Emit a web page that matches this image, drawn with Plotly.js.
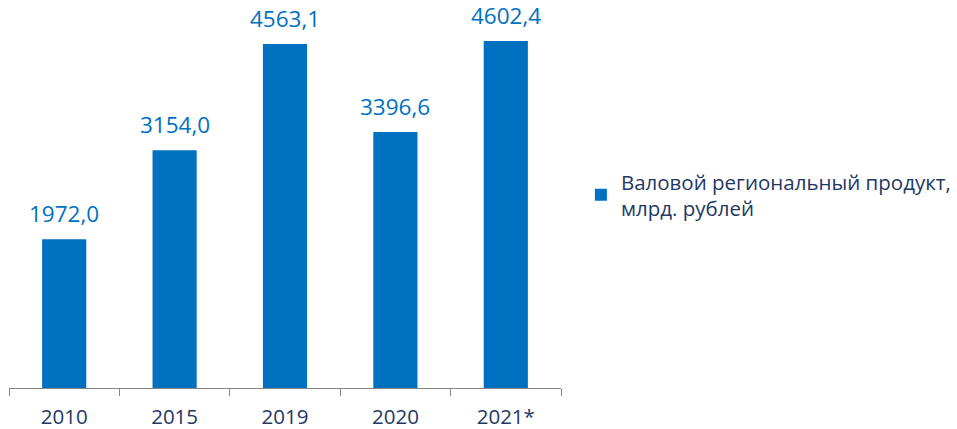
<!DOCTYPE html>
<html>
<head>
<meta charset="utf-8">
<script src="https://cdn.plot.ly/plotly-3.0.1.min.js"></script>
<style>html,body{margin:0;padding:0;background:#fff}#chart{width:957px;height:429px}</style>
</head>
<body>
<div id="chart"></div>
<script>
const categories = ["2010", "2015", "2019", "2020", "2021*"];
const values = [1972.0, 3154.0, 4563.1, 3396.6, 4602.4];
const valueLabels = ["1972,0", "3154,0", "4563,1", "3396,6", "4602,4"];
const seriesName = "Валовой региональный продукт,<br>млрд. рублей";

const FONT = "Open Sans, sans-serif";
const BLUE = "#0070C0";
const NAVY = "#1F3864";

const trace = {
  type: "bar",
  x: categories,
  y: values,
  name: seriesName,
  marker: {color: BLUE},
  width: 0.4,
  showlegend: true,
  hoverinfo: "none"
};

// category axes take annotation x as the category's serial index
const annotations = categories.map((c, i) => ({
  x: i, y: values[i], xref: "x", yref: "y",
  text: valueLabels[i], showarrow: false,
  yanchor: "bottom", yshift: 9, borderpad: 0,
  font: {family: FONT, size: 22.5, color: BLUE}
}));

const layout = {
  width: 957, height: 429,
  margin: {l: 9, r: 396, t: 11, b: 41},
  paper_bgcolor: "#fff", plot_bgcolor: "#fff",
  font: {family: FONT, color: NAVY},
  bargap: 0.6,
  xaxis: {
    type: "category",
    range: [-0.5, 4.5],
    showline: true, linecolor: "#868686", linewidth: 1,
    ticks: "outside", tickson: "boundaries", ticklen: 7, tickcolor: "#868686",
    ticklabelstandoff: 10,
    tickfont: {family: FONT, size: 20.5, color: NAVY},
    showgrid: false, zeroline: false, fixedrange: true
  },
  yaxis: {
    range: [0, 5000], visible: false, showgrid: false, zeroline: false, fixedrange: true
  },
  showlegend: true,
  legend: {
    xref: "container", yref: "container",
    x: 0.607, y: 0.545, xanchor: "left", yanchor: "middle",
    font: {family: FONT, size: 20.5, color: NAVY},
    itemwidth: 30,
    bgcolor: "rgba(0,0,0,0)"
  },
  annotations: annotations
};

Plotly.newPlot("chart", [trace], layout, {displayModeBar: false, staticPlot: true});
</script>
</body>
</html>
